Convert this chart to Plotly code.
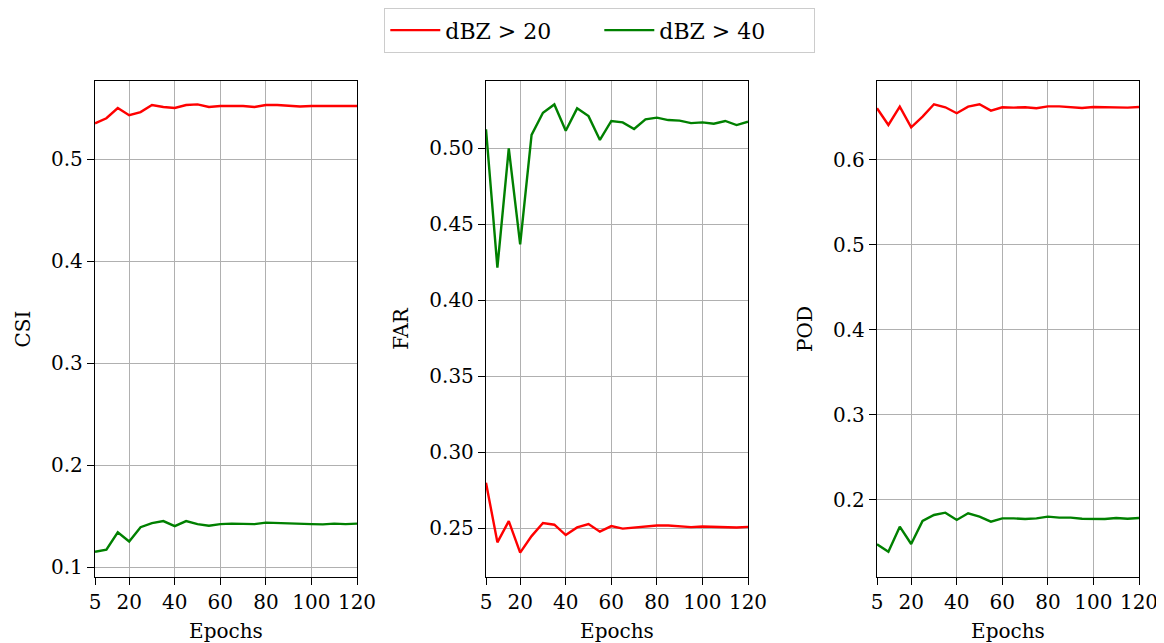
import plotly.graph_objects as go
from plotly.subplots import make_subplots

epochs = list(range(5, 121, 5))

csi_20 = [0.535, 0.540, 0.550, 0.543, 0.546, 0.553, 0.551, 0.550, 0.553, 0.5536, 0.551, 0.552,
          0.552, 0.552, 0.551, 0.553, 0.553, 0.552, 0.5515, 0.552, 0.552, 0.552, 0.552, 0.552]
csi_40 = [0.115, 0.117, 0.134, 0.125, 0.139, 0.143, 0.145, 0.140, 0.145, 0.142, 0.1405, 0.142,
          0.1425, 0.1425, 0.142, 0.1435, 0.143, 0.143, 0.142, 0.142, 0.1418, 0.1425, 0.142, 0.1425]

far_20 = [0.2798, 0.2406, 0.2546, 0.2338, 0.2447, 0.2533, 0.2522, 0.2454, 0.2504, 0.2526, 0.2476, 0.2513,
          0.2496, 0.2502, 0.2510, 0.2517, 0.2517, 0.2513, 0.2506, 0.2510, 0.2508, 0.2506, 0.2504, 0.2508]
far_40 = [0.5123, 0.4213, 0.4998, 0.4366, 0.5086, 0.5232, 0.5287, 0.5114, 0.5261, 0.5210, 0.5053, 0.5178,
          0.5169, 0.5125, 0.5189, 0.5200, 0.5184, 0.5180, 0.5164, 0.5169, 0.5160, 0.5178, 0.5151, 0.5173]

pod_20 = [0.6608, 0.6412, 0.6627, 0.6384, 0.6510, 0.6655, 0.6620, 0.6550, 0.6627, 0.6655, 0.6580, 0.6620,
          0.6616, 0.6620, 0.6608, 0.6631, 0.6631, 0.6624, 0.6612, 0.6624, 0.6620, 0.6620, 0.6616, 0.6624]
pod_40 = [0.1479, 0.1392, 0.1686, 0.1482, 0.1753, 0.1824, 0.1851, 0.1765, 0.1843, 0.1804, 0.1745, 0.1784,
          0.1784, 0.1776, 0.1784, 0.1804, 0.1792, 0.1792, 0.1780, 0.1780, 0.1776, 0.1788, 0.1780, 0.1788]

series_names = ["dBZ > 20", "dBZ > 40"]
metric_names = ["CSI", "FAR", "POD"]
x_ticks = [5, 20, 40, 60, 80, 100, 120]

panels = [
    (csi_20, csi_40, [0.0902, 0.5765], [0.1, 0.2, 0.3, 0.4, 0.5], ".1f"),
    (far_20, far_40, [0.2178, 0.5441], [0.25, 0.30, 0.35, 0.40, 0.45, 0.50], ".2f"),
    (pod_20, pod_40, [0.1094, 0.6929], [0.2, 0.3, 0.4, 0.5, 0.6], ".1f"),
]

# page body has an 8px margin, so the figure is drawn 8px in from the window edge;
# the figure runs to the window's right and bottom edges
OFF = 8
W, H = 1164 - OFF, 643 - OFF
x_px = [(95 - OFF, 357 - OFF), (486 - OFF, 748 - OFF), (877 - OFF, 1139 - OFF)]
y_px = (81 - OFF, 577 - OFF)

fig = make_subplots(rows=1, cols=3)
font_family = "DejaVu Serif"
TICK_FS = 20
TITLE_FS = 20

for i, (s20, s40, yr, yt, fmt) in enumerate(panels):
    col = i + 1
    fig.add_trace(go.Scatter(x=epochs, y=s20, mode="lines", name=series_names[0],
                             line=dict(color="#ff0000", width=2.4), showlegend=(i == 0)),
                  row=1, col=col)
    fig.add_trace(go.Scatter(x=epochs, y=s40, mode="lines", name=series_names[1],
                             line=dict(color="#008000", width=2.4), showlegend=(i == 0)),
                  row=1, col=col)
    xa = "xaxis" if i == 0 else f"xaxis{col}"
    ya = "yaxis" if i == 0 else f"yaxis{col}"
    fig.layout[xa].update(
        domain=[x_px[i][0] / W, x_px[i][1] / W], range=[5, 120], automargin=False,
        tickvals=x_ticks, ticks="outside", ticklen=7, tickcolor="black", tickwidth=1.2,
        showline=True, linecolor="black", linewidth=1.3, mirror=True,
        showgrid=True, gridcolor="#b0b0b0", gridwidth=1.2, zeroline=False,
        tickfont=dict(size=TICK_FS, color="black", family=font_family),
        title=dict(text="Epochs", font=dict(size=TITLE_FS, color="black", family=font_family), standoff=12),
    )
    fig.layout[ya].update(
        domain=[(H - y_px[1]) / H, (H - y_px[0]) / H], range=yr, automargin=False,
        tickvals=yt, tickformat=fmt, ticks="outside", ticklen=7, tickcolor="black", tickwidth=1.2,
        showline=True, linecolor="black", linewidth=1.3, mirror=True,
        showgrid=True, gridcolor="#b0b0b0", gridwidth=1.2, zeroline=False,
        tickfont=dict(size=TICK_FS, color="black", family=font_family),
        title=dict(text=metric_names[i], font=dict(size=TITLE_FS, color="black", family=font_family), standoff=15),
    )

fig.update_layout(
    width=W, height=H,
    margin=dict(l=0, r=0, t=0, b=0, autoexpand=False),
    plot_bgcolor="white", paper_bgcolor="white",
    font=dict(family=font_family, color="black"),
    legend=dict(orientation="h", x=(384 - OFF) / W, xanchor="left", y=1.0, yanchor="top",
                bordercolor="#cccccc", borderwidth=1.3, bgcolor="white",
                font=dict(size=22, family=font_family, color="black"),
                itemwidth=50, entrywidthmode="pixels", entrywidth=149),
)

fig.write_html("out.html")
